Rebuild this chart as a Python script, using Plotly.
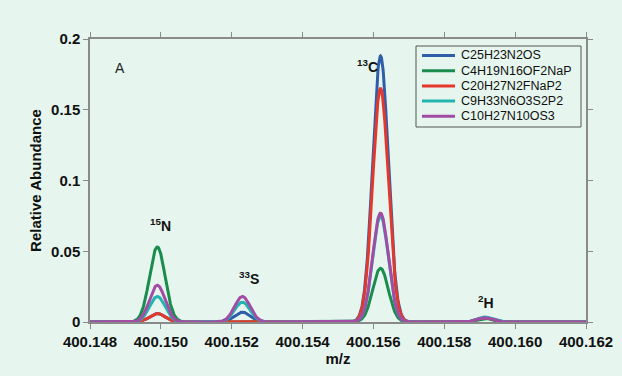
import numpy as np
import plotly.graph_objects as go

formulas = ["C25H23N2OS", "C4H19N16OF2NaP", "C20H27N2FNaP2", "C9H33N6O3S2P2", "C10H27N10OS3"]
colors = ["#2f5ea8", "#1a8c4e", "#e5382c", "#22b5b0", "#a24ca6"]
peak_labels = ["<sup>15</sup>N", "<sup>33</sup>S", "<sup>13</sup>C", "<sup>2</sup>H"]
peak_mz = [400.14990, 400.15230, 400.15620, 400.15915]
# heights per formula at each peak (15N, 33S, 13C, 2H)
heights = {
    "C25H23N2OS":     [0.006, 0.007, 0.188, 0.0028],
    "C4H19N16OF2NaP": [0.053, 0.000, 0.038, 0.0025],
    "C20H27N2FNaP2":  [0.006, 0.000, 0.165, 0.0030],
    "C9H33N6O3S2P2":  [0.018, 0.014, 0.075, 0.0035],
    "C10H27N10OS3":   [0.026, 0.018, 0.077, 0.0030],
}
x_ticks = [400.148, 400.150, 400.152, 400.154, 400.156, 400.158, 400.160, 400.162]
y_ticks = [0, 0.05, 0.1, 0.15, 0.2]

sigma = 0.00022
mz = np.linspace(400.148, 400.162, 1401)

fig = go.Figure()
for f, c in zip(formulas, colors):
    y = np.zeros_like(mz)
    for m, h in zip(peak_mz, heights[f]):
        y += h * np.exp(-0.5 * ((mz - m) / sigma) ** 2)
    fig.add_trace(go.Scatter(x=mz, y=y, mode="lines", name=f, showlegend=False,
                             line=dict(color=c, width=3)))

label_x = [400.14998, 400.15249, 400.15582, 400.15918]
label_y = [0.0685, 0.031, 0.1806, 0.014]
FONT = "Liberation Sans, Arial"
for lab, lx, ly in zip(peak_labels, label_x, label_y):
    fig.add_annotation(x=lx, y=ly, text="<b>" + lab + "</b>", showarrow=False,
                       font=dict(size=14, color="#111", family=FONT))
fig.add_annotation(x=400.14885, y=0.1795, text="A", showarrow=False,
                   font=dict(size=14, color="#222", family=FONT))

# Compact legend box (plot-area fractions)
L, R, T, B = 90, 586, 39, 322
fx = lambda px: (px - L) / (R - L)
fy = lambda py: (B - py) / (B - T)
fig.add_shape(type="rect", xref="paper", yref="paper",
              x0=fx(416), x1=fx(581), y0=fy(127), y1=fy(46),
              line=dict(color="#555", width=1), fillcolor="#e6f6ee", layer="above")
for i, (f, c) in enumerate(zip(formulas, colors)):
    py = 55.5 + i * 15.2
    fig.add_shape(type="line", xref="paper", yref="paper",
                  x0=fx(422), x1=fx(455), y0=fy(py), y1=fy(py),
                  line=dict(color=c, width=3), layer="above")
    fig.add_annotation(xref="paper", yref="paper", x=fx(459), y=fy(py),
                       xanchor="left", yanchor="middle", text=f, showarrow=False,
                       font=dict(size=12.5, color="#111", family=FONT))

bg = "#e6f6ee"
axis_common = dict(showline=True, linecolor="#8a8a8a", linewidth=1.5, mirror="ticks",
                   ticks="outside", ticklen=5, tickcolor="#8a8a8a", showgrid=False,
                   zeroline=False,
                   tickfont=dict(size=15, color="#111", family=FONT))
fig.update_layout(
    width=622, height=376,
    paper_bgcolor=bg, plot_bgcolor=bg,
    margin=dict(l=90, r=36, t=39, b=54, autoexpand=False),
    font=dict(family=FONT, color="#111"),
    xaxis=dict(range=[400.148, 400.162], tickvals=x_ticks,
               ticktext=["<b>%.3f</b>" % v for v in x_ticks],
               title=dict(text="<b>m/z</b>", font=dict(size=15), standoff=2),
               **axis_common),
    yaxis=dict(range=[0, 0.2], tickvals=y_ticks,
               ticktext=["<b>%g</b>" % v for v in y_ticks],
               title=dict(text="<b>Relative Abundance</b>", font=dict(size=15), standoff=6),
               **axis_common),
    showlegend=False,
)
fig.write_html("out.html", config={"displayModeBar": False},
               post_script="document.body.style.margin='0';document.body.style.background='%s';" % bg)
